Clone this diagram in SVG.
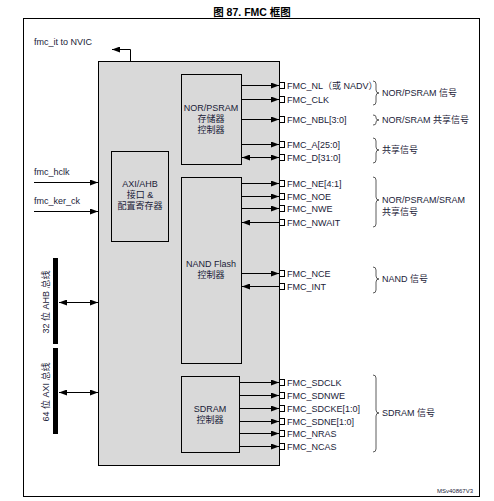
<svg xmlns="http://www.w3.org/2000/svg" width="494" height="501" viewBox="0 0 494 501">
<defs>
<marker id="ah" viewBox="0 0 8 6" refX="8" refY="3" markerWidth="8" markerHeight="6" markerUnits="userSpaceOnUse" orient="auto-start-reverse"><path d="M0,0 L8,3 L0,6 z" fill="#000"/></marker>
</defs>
<style>
text{font-family:"Liberation Sans","Noto Sans CJK SC",sans-serif;fill:#1a2238;font-size:9px}
.t{font-size:10.5px;font-weight:bold;fill:#000}
.c{text-anchor:middle}
.ln{stroke:#000;stroke-width:1;fill:none}
.sq{fill:#fff;stroke:#000;stroke-width:1}
.br{stroke:#333;stroke-width:0.8;fill:none}
.box{fill:#d9d9d9;stroke:#000;stroke-width:1}
</style>
<rect width="494" height="501" fill="#fff"/>
<text class="t c" x="252" y="16">图 87. FMC 框图</text>
<rect x="23.5" y="18.5" width="456" height="478" fill="#fff" stroke="#000" stroke-width="1"/>

<g id="fmc">
<rect class="box" x="98.5" y="61.5" width="181" height="404"/>
</g>
<g id="axi">
<rect x="111.5" y="151.5" width="57" height="90" fill="none" stroke="#000"/>
<text class="c" x="140" y="187">AXI/AHB</text>
<text class="c" x="140" y="198">接口 &amp;</text>
<text class="c" x="140" y="209">配置寄存器</text>
</g>
<g id="nor">
<rect x="181.5" y="74.5" width="60" height="90" fill="none" stroke="#000"/>
<text class="c" x="211" y="111">NOR/PSRAM</text>
<text class="c" x="211" y="122">存储器</text>
<text class="c" x="211" y="133">控制器</text>
</g>
<g id="nand">
<rect x="181.5" y="177.5" width="60" height="186" fill="none" stroke="#000"/>
<text class="c" x="211" y="267">NAND Flash</text>
<text class="c" x="211" y="278">控制器</text>
</g>
<g id="sdram">
<rect x="181.5" y="376.5" width="58" height="76" fill="none" stroke="#000"/>
<text class="c" x="210" y="412">SDRAM</text>
<text class="c" x="210" y="423">控制器</text>
</g>
<g id="buses">
<rect x="53" y="258" width="5" height="86" fill="#000"/>
<rect x="53" y="348" width="5" height="86" fill="#000"/>
<text class="c" transform="translate(49,302) rotate(-90)">32 位 AHB 总线</text>
<text class="c" transform="translate(49,392) rotate(-90)">64 位 AXI 总线</text>
</g>
<g id="connectors">
<path class="ln" d="M130.5,61 V49.5 H112" marker-end="url(#ah)"/>
<line class="ln" x1="34" y1="182.5" x2="98" y2="182.5" marker-end="url(#ah)"/>
<line class="ln" x1="34" y1="211.5" x2="98" y2="211.5" marker-end="url(#ah)"/>
<line class="ln" x1="59" y1="302.5" x2="98" y2="302.5" marker-start="url(#ah)" marker-end="url(#ah)"/>
<line class="ln" x1="59" y1="392.5" x2="98" y2="392.5" marker-start="url(#ah)" marker-end="url(#ah)"/>

<line class="ln" x1="242" y1="85.5" x2="279" y2="85.5" marker-end="url(#ah)"/>
<line class="ln" x1="242" y1="99.5" x2="279" y2="99.5" marker-end="url(#ah)"/>
<line class="ln" x1="242" y1="119.5" x2="279" y2="119.5" marker-end="url(#ah)"/>
<line class="ln" x1="242" y1="144.5" x2="279" y2="144.5" marker-end="url(#ah)"/>
<line class="ln" x1="242" y1="157.5" x2="279" y2="157.5" marker-start="url(#ah)" marker-end="url(#ah)"/>
<line class="ln" x1="242" y1="183.5" x2="279" y2="183.5" marker-end="url(#ah)"/>
<line class="ln" x1="242" y1="196.5" x2="279" y2="196.5" marker-end="url(#ah)"/>
<line class="ln" x1="242" y1="208.5" x2="279" y2="208.5" marker-end="url(#ah)"/>
<line class="ln" x1="242" y1="222.5" x2="279" y2="222.5" marker-start="url(#ah)"/>
<line class="ln" x1="242" y1="273.5" x2="279" y2="273.5" marker-end="url(#ah)"/>
<line class="ln" x1="242" y1="286.5" x2="279" y2="286.5" marker-start="url(#ah)"/>
<line class="ln" x1="239" y1="382.5" x2="279" y2="382.5" marker-end="url(#ah)"/>
<line class="ln" x1="239" y1="395.5" x2="279" y2="395.5" marker-end="url(#ah)"/>
<line class="ln" x1="239" y1="408.5" x2="279" y2="408.5" marker-end="url(#ah)"/>
<line class="ln" x1="239" y1="421.5" x2="279" y2="421.5" marker-end="url(#ah)"/>
<line class="ln" x1="239" y1="433.5" x2="279" y2="433.5" marker-end="url(#ah)"/>
<line class="ln" x1="239" y1="446.5" x2="279" y2="446.5" marker-end="url(#ah)"/>
</g>
<g id="pins">
<rect class="sq" x="279.5" y="82.5" width="5" height="6"/>
<rect class="sq" x="279.5" y="96.5" width="5" height="6"/>
<rect class="sq" x="279.5" y="116.5" width="5" height="6"/>
<rect class="sq" x="279.5" y="141.5" width="5" height="6"/>
<rect class="sq" x="279.5" y="154.5" width="5" height="6"/>
<rect class="sq" x="279.5" y="180.5" width="5" height="6"/>
<rect class="sq" x="279.5" y="193.5" width="5" height="6"/>
<rect class="sq" x="279.5" y="205.5" width="5" height="6"/>
<rect class="sq" x="279.5" y="219.5" width="5" height="6"/>
<rect class="sq" x="279.5" y="270.5" width="5" height="6"/>
<rect class="sq" x="279.5" y="283.5" width="5" height="6"/>
<rect class="sq" x="279.5" y="379.5" width="5" height="6"/>
<rect class="sq" x="279.5" y="392.5" width="5" height="6"/>
<rect class="sq" x="279.5" y="405.5" width="5" height="6"/>
<rect class="sq" x="279.5" y="418.5" width="5" height="6"/>
<rect class="sq" x="279.5" y="430.5" width="5" height="6"/>
<rect class="sq" x="279.5" y="443.5" width="5" height="6"/>
</g>
<g id="labels">
<text x="34" y="45">fmc_it to NVIC</text>
<text x="34" y="175">fmc_hclk</text>
<text x="34" y="204">fmc_ker_ck</text>
<text x="287" y="89">FMC_NL（或 NADV）</text>
<text x="287" y="103">FMC_CLK</text>
<text x="287" y="123">FMC_NBL[3:0]</text>
<text x="287" y="148">FMC_A[25:0]</text>
<text x="287" y="161">FMC_D[31:0]</text>
<text x="287" y="187">FMC_NE[4:1]</text>
<text x="287" y="200">FMC_NOE</text>
<text x="287" y="212">FMC_NWE</text>
<text x="287" y="226">FMC_NWAIT</text>
<text x="287" y="277">FMC_NCE</text>
<text x="287" y="290">FMC_INT</text>
<text x="287" y="386">FMC_SDCLK</text>
<text x="287" y="399">FMC_SDNWE</text>
<text x="287" y="412">FMC_SDCKE[1:0]</text>
<text x="287" y="425">FMC_SDNE[1:0]</text>
<text x="287" y="437">FMC_NRAS</text>
<text x="287" y="450">FMC_NCAS</text>
</g>
<g id="groups">
<path class="br" d="M373,81 Q376,81 376,84 L376,90 Q376,93 379,93 Q376,93 376,96 L376,102 Q376,105 373,105"/>
<path class="br" d="M373,115 Q376,115 376,117 L376,118 Q376,120 379,120 Q376,120 376,122 L376,123 Q376,125 373,125"/>
<path class="br" d="M373,138 Q376,138 376,141 L376,147 Q376,150 379,150 Q376,150 376,153 L376,160 Q376,163 373,163"/>
<path class="br" d="M373,177 Q376,177 376,180 L376,197 Q376,200 379,200 Q376,200 376,203 L376,224 Q376,227 373,227"/>
<path class="br" d="M373,267 Q376,267 376,270 L376,276 Q376,279 379,279 Q376,279 376,282 L376,290 Q376,293 373,293"/>
<path class="br" d="M373,375 Q376,375 376,378 L376,410 Q376,413 379,413 Q376,413 376,416 L376,449 Q376,452 373,452"/>
<text x="382" y="96">NOR/PSRAM 信号</text>
<text x="382" y="123">NOR/SRAM 共享信号</text>
<text x="382" y="153">共享信号</text>
<text x="382" y="203">NOR/PSRAM/SRAM</text>
<text x="382" y="215">共享信号</text>
<text x="382" y="282">NAND 信号</text>
<text x="382" y="416">SDRAM 信号</text>
<text x="437" y="493" style="font-size:6px">MSv40867V3</text>
</g>
</svg>
